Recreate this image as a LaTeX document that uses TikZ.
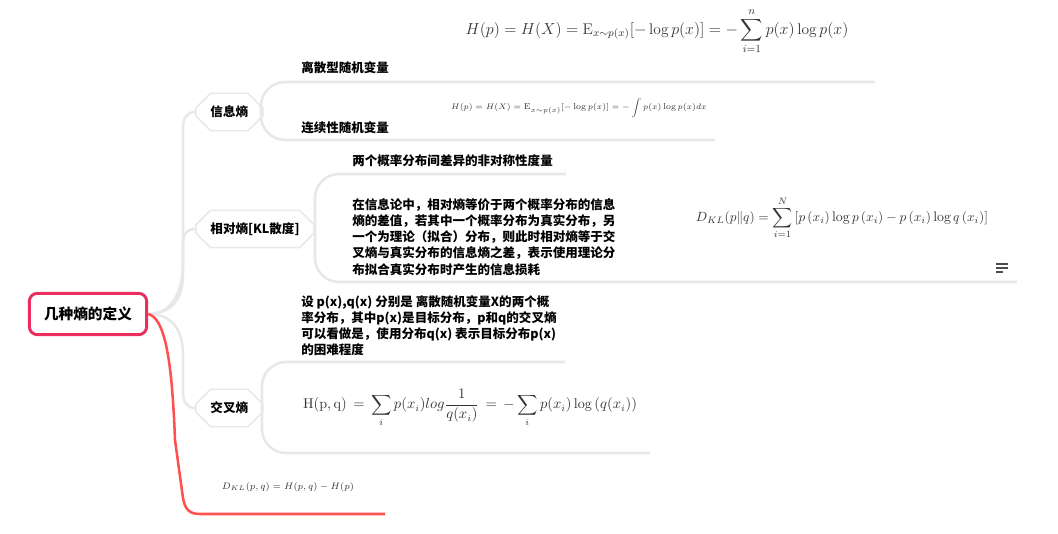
\documentclass[tikz,border=0pt]{standalone}
\usepackage{amsmath}
\usepackage{amssymb}
\usepackage{fontspec}
\newfontfamily\cjk{Noto Sans CJK SC}
\usetikzlibrary{shapes.misc, positioning, calc}
\definecolor{rootred}{RGB}{236,45,95}
\definecolor{branchred}{RGB}{255,80,80}
\definecolor{linegray}{RGB}{232,232,232}
\definecolor{mathgray}{RGB}{51,51,51}

\begin{document}
\begin{tikzpicture}[
  x=0.75pt, y=-0.75pt,
  root/.style={
    rectangle, draw=rootred, line width=2.2pt, rounded corners=6pt,
    minimum width=88pt, minimum height=31pt, fill=white,
    font=\cjk\bfseries\fontsize{11}{13}\selectfont
  },
  topic/.style={
    chamfered rectangle, chamfered rectangle xsep=7pt, chamfered rectangle ysep=4pt,
    draw=linegray, line width=1.2pt, fill=white, anchor=west,
    minimum height=28pt, inner xsep=4pt,
    font=\cjk\bfseries\fontsize{9.4}{11}\selectfont
  },
  leaf/.style={inner sep=0pt, anchor=west, font=\cjk\bfseries\fontsize{9.4}{11}\selectfont},
  para/.style={inner sep=0pt, anchor=north west, align=left,
    font=\cjk\bfseries\fontsize{9.4}{12.2}\selectfont},
  formula/.style={inner sep=0pt, text=mathgray},
  gline/.style={draw=linegray, line width=1.9pt},
  rline/.style={draw=branchred, line width=1.9pt},
  bracket/.style={gline, rounded corners=18pt},
  notemark/.style={draw=black!70, line width=0.8pt}
]
\useasboundingbox (0,0) rectangle (1058,534);

% Root and main topics
\node[root] (root) at (88,314) {几种熵的定义};
\node[topic] (xxs) at (195,112) {信息熵};
\node[topic] (kl) at (195,229) {相对熵[KL散度]};
\node[topic] (cross) at (195,408) {交叉熵};

% Information entropy
\node[leaf] (dis) at (301,68) {离散型随机变量};
\node[formula, font=\fontsize{11.6}{13}\selectfont] (disf) at (657,31)
  {$\displaystyle H(p)=H(X)=\mathrm{E}_{x\sim p(x)}[-\log p(x)]=-\sum_{i=1}^{n}p(x)\log p(x)$};
\coordinate (disend) at (875,82);
\node[leaf] (con) at (301,128) {连续性随机变量};
\node[formula, font=\fontsize{6.5}{8}\selectfont] (conf) at (579,108)
  {$\displaystyle H(p)=H(X)=\mathrm{E}_{x\sim p(x)}[-\log p(x)]=-\int p(x)\log p(x)dx$};
\coordinate (conend) at (715,140);

% Relative entropy
\node[leaf] (asym) at (352,161) {两个概率分布间差异的非对称性度量};
\coordinate (asymend) at (566,174);
\node[para] (klnote) at (352,198) {在信息论中，相对熵等价于两个概率分布的信息\\
  熵的差值，若其中一个概率分布为真实分布，另\\
  一个为理论（拟合）分布，则此时相对熵等于交\\
  叉熵与真实分布的信息熵之差，表示使用理论分\\
  布拟合真实分布时产生的信息损耗};
\node[formula, font=\fontsize{10.4}{12}\selectfont] (klf) at (842,218)
  {$\displaystyle D_{KL}(p\|q)=\sum_{i=1}^{N}\left[p\left(x_i\right)\log p\left(x_i\right)-p\left(x_i\right)\log q\left(x_i\right)\right]$};
\coordinate (klend) at (1017,282);

% Cross entropy
\node[para] (crossnote) at (301,295) {设 p(x),q(x) 分别是 离散随机变量X的两个概\\
  率分布，其中p(x)是目标分布，p和q的交叉熵\\
  可以看做是，使用分布q(x) 表示目标分布p(x)\\
  的困难程度};
\coordinate (crossnoteend) at (565,362);
\node[formula, font=\fontsize{10.6}{13}\selectfont] (crossf) at (470,408)
  {$\mathrm{H}(\mathrm{p},\mathrm{q})\,=\,\displaystyle\sum_i p(x_i)log\frac{1}{q(x_i)}\,=\,-\sum_i p(x_i)\log\left(q(x_i)\right)$};
\coordinate (crossend) at (650,453);

% Relation
\node[formula, font=\fontsize{7.5}{9}\selectfont] (dkl) at (288,487) {$D_{KL}(p,q)=H(p,q)-H(p)$};
\coordinate (dklend) at (385,514);

% Root branches
\draw[gline] (root.east) .. controls (172,314) and (183,292) .. (183,262) -- (183,128)
  .. controls (183,118) and (187,112) .. (xxs.west);
\draw[gline] (root.east) .. controls (172,314) and (183,298) .. (183,275) -- (183,244)
  .. controls (183,234) and (187,229) .. (kl.west);
\draw[gline] (root.east) .. controls (172,314) and (183,330) .. (183,355) -- (183,392)
  .. controls (183,402) and (187,408) .. (cross.west);
\draw[rline] (root.east) .. controls (165,318) and (172,360) .. (175,440) -- (183,498)
  .. controls (185,510) and (190,514) .. (200,514) -- (dklend);

% Brackets
\draw[gline] (xxs.east) -- (261,112);
\draw[bracket] (261,112) |- (disend);
\draw[bracket] (261,112) |- (conend);
\draw[gline] (kl.east) -- (315,229);
\draw[bracket] (315,229) |- (asymend);
\draw[bracket] (315,229) |- (klend);
\draw[gline] (cross.east) -- (262,408);
\draw[bracket] (262,408) |- (crossnoteend);
\draw[bracket] (262,408) |- (crossend);

% Note icon
\draw[notemark] (996,264) -- (1008,264);
\draw[notemark] (996,268) -- (1008,268);
\draw[notemark] (996,272) -- (1003,272);

\end{tikzpicture}
\end{document}
